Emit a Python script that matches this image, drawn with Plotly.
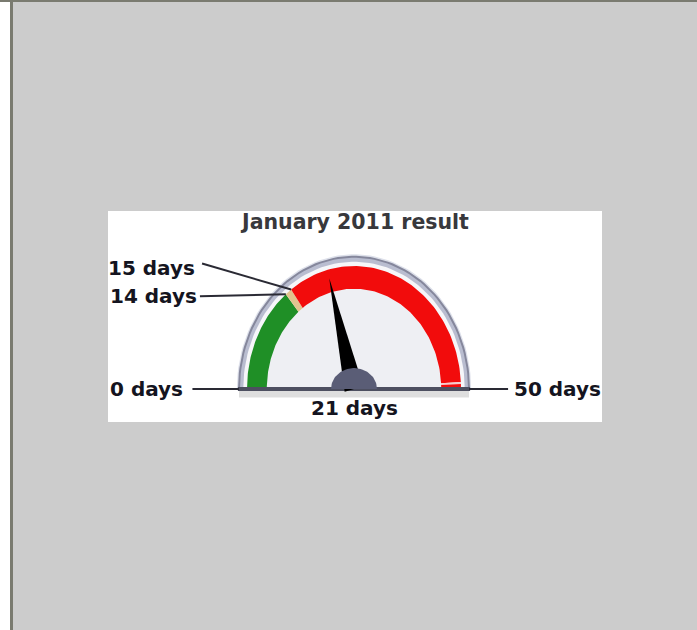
import numpy as np
import plotly.graph_objects as go

# gauge data
TITLE = "January 2011 result"
UNIT = "days"
GAUGE_MIN = 0
GAUGE_MAX = 50
VALUE = 21
band_starts = [0, 14, 15, 49.1, 49.35]
band_ends = [14, 15, 49.1, 49.35, 50]
band_colors = ["#1f8f26", "#e2c48e", "#f20c0c", "#f6cccc", "#f20c0c"]
label_values = [0, 14, 15, 50]

# layout constants (pixels of the 697x630 page)
W, H = 697, 630
PANEL = (108, 211, 602, 422)          # left, top, right, bottom of the white chart panel
CENTER_PX = (354, 389)                # gauge hub
UNIT_PX = (107, 123)                  # one gauge radius in x / y pixels

R_BODY = 1.075
R_OUT = 1.0
R_IN = 0.815
R_NEEDLE = 0.93

FONT = dict(family="DejaVu Sans", size=20, color="#141420", weight="bold")

# where each tick label and its leader line sit (text x, text y, line start x, line start y, anchor, end radius)
label_layout = {
    0: (-1.58, 0.0, -1.51, 0.0, "right", R_BODY),
    14: (-1.445, 0.755, -1.44, 0.755, "right", R_OUT),
    15: (-1.465, 0.985, -1.42, 1.02, "right", R_OUT),
    50: (1.48, 0.0, 1.44, 0.0, "left", R_BODY),
}


def angle(v):
    return np.pi * (1 - (v - GAUGE_MIN) / (GAUGE_MAX - GAUGE_MIN))


def arc(v0, v1, rx, ry=None, n=80):
    ry = rx if ry is None else ry
    t = np.linspace(angle(v0), angle(v1), n)
    return rx * np.cos(t), ry * np.sin(t)


def poly(fig, x, y, color, line_color=None, line_width=0):
    fig.add_trace(go.Scatter(x=list(x), y=list(y), mode="lines", fill="toself",
                             fillcolor=color,
                             line=dict(color=line_color or color, width=line_width),
                             hoverinfo="skip", showlegend=False))


fig = go.Figure()

# gauge body: soft outer glow, rim, face
gx, gy = arc(GAUGE_MIN, GAUGE_MAX, R_BODY + 0.02)
poly(fig, gx, gy, "#dde0ea")
bx, by = arc(GAUGE_MIN, GAUGE_MAX, R_BODY)
poly(fig, bx, by, "#b9bdd0", "#85879c", 2)
wx, wy = arc(GAUGE_MIN, GAUGE_MAX, R_OUT + 0.035)
poly(fig, wx, wy, "#f6f6f9")
fx, fy = arc(GAUGE_MIN, GAUGE_MAX, R_IN)
poly(fig, fx, fy, "#eeeff3")

# coloured band
for s, e, c in zip(band_starts, band_ends, band_colors):
    ox, oy = arc(s, e, R_OUT)
    ix, iy = arc(e, s, R_IN)
    poly(fig, np.concatenate([ox, ix]), np.concatenate([oy, iy]), c)

# base bar and its shadow
fig.add_trace(go.Scatter(x=[-R_BODY, R_BODY], y=[-0.04, -0.04], mode="lines",
                         line=dict(color="rgba(0,0,0,0.13)", width=7),
                         hoverinfo="skip", showlegend=False))
fig.add_trace(go.Scatter(x=[-R_BODY - 0.01, R_BODY + 0.01], y=[0, 0], mode="lines",
                         line=dict(color="#4d4f60", width=4),
                         hoverinfo="skip", showlegend=False))

# needle
a = angle(VALUE)
w = 0.09
tip = (R_NEEDLE * np.cos(a), R_NEEDLE * np.sin(a))
px, py = -np.sin(a) * w, np.cos(a) * w
poly(fig, [tip[0], px, -px, tip[0]], [tip[1], py, -py, tip[1]], "#000000")

# hub
hx, hy = arc(GAUGE_MIN, GAUGE_MAX, 0.215, 0.17, n=50)
poly(fig, hx, hy, "#5a5d76")

# tick labels with leader lines
for v in label_values:
    tx, ty, lx, ly, anchor, r_end = label_layout[v]
    ex, ey = r_end * np.cos(angle(v)), r_end * np.sin(angle(v))
    fig.add_trace(go.Scatter(x=[lx, ex], y=[ly, ey], mode="lines",
                             line=dict(color="#2a2a34", width=2),
                             hoverinfo="skip", showlegend=False))
    fig.add_annotation(x=tx, y=ty, text=f"{v} {UNIT}", showarrow=False,
                       xanchor=anchor, yanchor="middle", font=FONT)

# value label and title
fig.add_annotation(x=0, y=-0.155, text=f"{VALUE} {UNIT}", showarrow=False,
                   xanchor="center", yanchor="middle", font=FONT)
fig.add_annotation(x=0, y=1.36, text=TITLE, showarrow=False,
                   xanchor="center", yanchor="middle",
                   font=dict(family="DejaVu Sans", size=20.5, color="#38383c", weight="bold"))

# axes mapped so the gauge lands on the same pixels
x_range = [(PANEL[0] - CENTER_PX[0]) / UNIT_PX[0], (PANEL[2] - CENTER_PX[0]) / UNIT_PX[0]]
y_range = [(CENTER_PX[1] - PANEL[3]) / UNIT_PX[1], (CENTER_PX[1] - PANEL[1]) / UNIT_PX[1]]
hidden = dict(showgrid=False, zeroline=False, showticklabels=False, ticks="",
              showline=False, fixedrange=True)
fig.update_xaxes(range=x_range, domain=[PANEL[0] / W, PANEL[2] / W], **hidden)
fig.update_yaxes(range=y_range, domain=[1 - PANEL[3] / H, 1 - PANEL[1] / H], **hidden)

# page frame: white strip, dark left and top borders
frame = [
    (0, 0, 10, H, "#ffffff"),
    (10, 0, 13, H, "#7a7b70"),
    (0, 0, W, 2, "#7a7b70"),
]
for x0, y0, x1, y1, c in frame:
    fig.add_shape(type="rect", xref="paper", yref="paper",
                  x0=x0 / W, x1=x1 / W, y0=1 - y1 / H, y1=1 - y0 / H,
                  fillcolor=c, line=dict(width=0), layer="above")

fig.update_layout(width=W, height=H, margin=dict(l=0, r=0, t=0, b=0),
                  paper_bgcolor="#cccccc", plot_bgcolor="#ffffff",
                  showlegend=False)

# drop the browser's default 8px body margin so the figure sits at the page corner
fig.write_html("out.html", config={"displayModeBar": False},
               post_script="document.body.style.margin='0';document.body.style.overflow='hidden';")
